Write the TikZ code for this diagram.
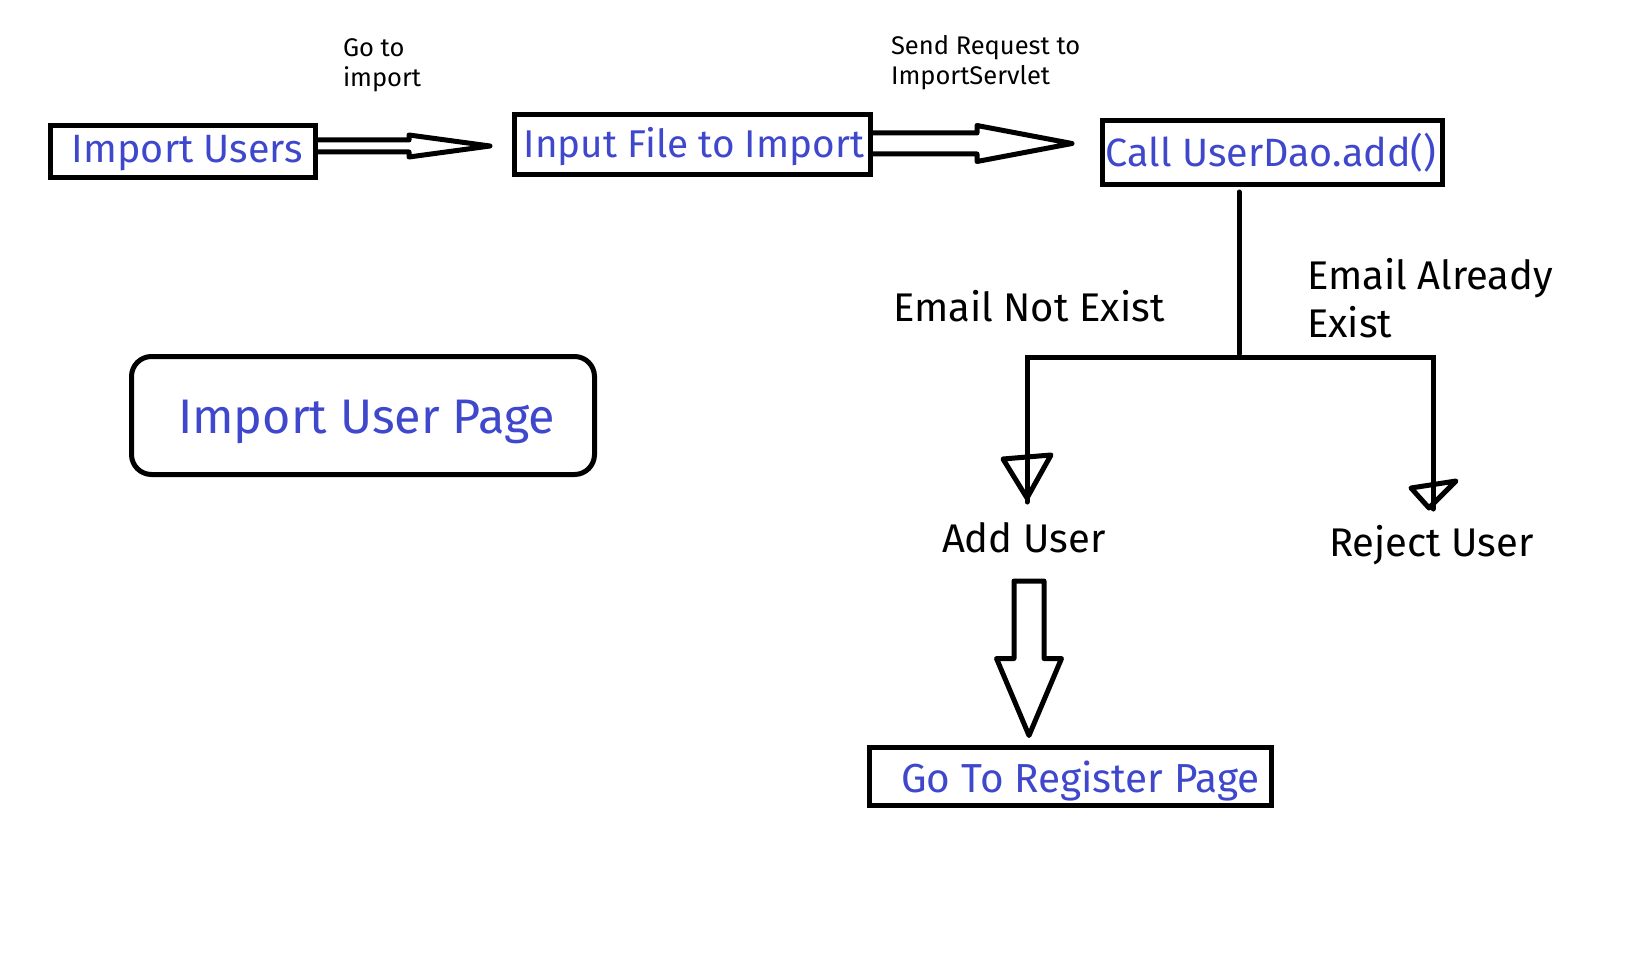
\documentclass[tikz,border=0pt]{standalone}
\usepackage{fontspec}
\setmainfont{Fira Sans}
\usetikzlibrary{calc}
\definecolor{ink}{RGB}{63,72,204}
\tikzset{
  box/.style={draw, line width=5pt, inner xsep=0pt, inner ysep=0pt, outer sep=0pt, text=ink, anchor=base, font=\fontsize{39.5}{46}\selectfont},
  lbl/.style={inner sep=0pt, outer sep=0pt, anchor=base west, align=left, text=black},
  biglbl/.style={lbl, font=\fontsize{40}{48}\selectfont},
  smalllbl/.style={lbl, font=\fontsize{25.5}{30.5}\selectfont},
  hollow/.style={draw, line width=5pt, line join=round, line cap=round},
  wire/.style={draw, line width=5pt, line cap=round, line join=miter},
  tri/.style={draw, line width=5pt, line join=round}
}
\begin{document}
\begin{tikzpicture}[x=1pt,y=-1pt]
\useasboundingbox (0,0) rectangle (1646,960);
\fill[white] (0,0) rectangle (1646,960);

% boxes
\node[box, minimum width=265pt, text height=37.5pt, text depth=14.5pt] (iu) at (183,163) {\hspace*{9pt}Import Users};
\node[box, minimum width=356pt, text height=43.5pt, text depth=16.5pt, font=\fontsize{38.7}{46}\selectfont] (ifi) at (692.5,158) {\hspace*{3pt}Input File to Import};
\node[box, minimum width=340pt, text height=46.5pt, text depth=17.5pt] (call) at (1272.5,167) {Call UserDao.add()\hspace*{3pt}};
\node[box, minimum width=402pt, text height=44.5pt, text depth=13.5pt, font=\fontsize{40.5}{48}\selectfont] (reg) at (1070.5,792) {\hspace*{20pt}Go To Register Page};
\node[box, rounded corners=20pt, minimum width=463pt, text height=76.5pt, text depth=41.5pt, font=\fontsize{48.5}{58}\selectfont] (iup) at (363,433) {\hspace*{7pt}Import User Page};

% labels (anchor is the baseline of the last line)
\node[smalllbl] (goto) at (343,87) {Go to\\import};
\node[smalllbl] (send) at (891,85) {Send Request to\\ImportServlet};
\node[biglbl] (nex) at (893,321) {Email Not Exist};
\node[biglbl] (aex) at (1307,337) {Email Already\\Exist};
\node[biglbl] (add) at (942,552) {Add User};
\node[biglbl] (rej) at (1329,556) {Reject User};

% hollow arrow 1
\coordinate (t1) at (490,146);
\coordinate (s1) at (iu.east |- t1);
\draw[hollow] ($(s1)+(0,-6)$) -- ($(t1)+(-81,-6)$) -- ($(t1)+(-81,-11)$) -- (t1)
  -- ($(t1)+(-81,11)$) -- ($(t1)+(-81,6)$) -- ($(s1)+(0,6)$);

% hollow arrow 2
\coordinate (t2) at (1072,143.5);
\coordinate (s2) at (ifi.east |- t2);
\draw[hollow] ($(s2)+(0,-10.5)$) -- ($(t2)+(-95,-10.5)$) -- ($(t2)+(-95,-18)$) -- (t2)
  -- ($(t2)+(-95,18)$) -- ($(t2)+(-95,10.5)$) -- ($(s2)+(0,10.5)$);

% big down arrow
\coordinate (s3) at (1029,581);
\coordinate (t3) at (reg.north -| s3);
\coordinate (t3) at ($(t3)+(0,-12)$);
\draw[hollow] ($(s3)+(-15,0)$) -- ($(t3)+(-15,-77)$) -- ($(t3)+(-32.5,-77)$) -- (t3)
  -- ($(t3)+(32.5,-77)$) -- ($(t3)+(15,-77)$) -- ($(s3)+(15,0)$) -- cycle;

% branching wires
\coordinate (jtop) at (1239,192);
\coordinate (j) at (1239,357);
\coordinate (ta) at (1027,502);
\coordinate (tr) at (1433,509);
\draw[wire] (jtop) -- ($(j)+(0,-3)$);
\draw[wire] (ta) -- (ta |- j) -- (tr |- j) -- (tr);
\draw[tri] ($(ta)+(-24,-43)$) -- ($(ta)+(24,-47)$) -- ($(ta)+(0,-4)$) -- cycle;
\draw[tri] ($(tr)+(-22,-21)$) -- ($(tr)+(23,-28)$) -- ($(tr)+(-4,-1)$) -- cycle;
\end{tikzpicture}
\end{document}
